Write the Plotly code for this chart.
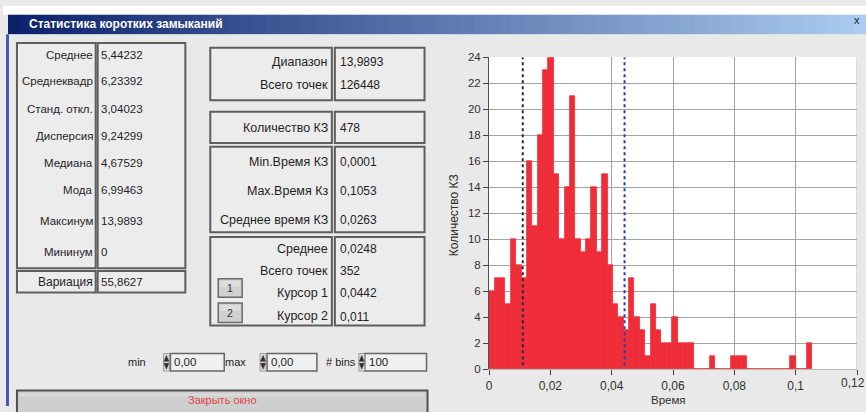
import plotly.graph_objects as go

W, H = 866, 412
FONT = "Liberation Sans, Arial, sans-serif"

# ---------------- data ----------------
bin_start = 0.0001
bin_end = 0.1053
hist_counts = [6, 7, 7, 5, 10, 8, 7, 16, 11, 18, 23, 24, 15, 10, 14, 21, 10, 9, 10, 14,
               9, 15, 8, 5, 4, 3, 7, 4, 3, 1, 5, 3, 2, 2, 4, 2, 2, 2, 0, 0,
               0, 1, 0, 0, 0, 1, 1, 1, 0, 0, 0, 0, 0, 0, 0, 0, 1, 0, 0, 2]
cursor1 = 0.0442
cursor2 = 0.011
x_ticks = [0, 0.02, 0.04, 0.06, 0.08, 0.1, 0.12]
y_ticks = [0, 2, 4, 6, 8, 10, 12, 14, 16, 18, 20, 22, 24]

window_title = "Статистика коротких замыканий"
left_labels = ["Среднее", "Среднеквадр", "Станд. откл.", "Дисперсия", "Медиана", "Мода", "Максинум", "Мининум"]
left_values = ["5,44232", "6,23392", "3,04023", "9,24299", "4,67529", "6,99463", "13,9893", "0"]
var_label = "Вариация"
var_value = "55,8627"
mid1_labels = ["Диапазон", "Всего точек"]
mid1_values = ["13,9893", "126448"]
mid2_labels = ["Количество КЗ"]
mid2_values = ["478"]
mid3_labels = ["Min.Время КЗ", "Max.Время Кз", "Среднее время КЗ"]
mid3_values = ["0,0001", "0,1053", "0,0263"]
mid4_labels = ["Среднее", "Всего точек", "Курсор 1", "Курсор 2"]
mid4_values = ["0,0248", "352", "0,0442", "0,011"]
ctrl_labels = ["min", "max", "# bins"]
ctrl_values = ["0,00", "0,00", "100"]
close_label = "Закрыть окно"
x_title = "Время"
y_title = "Количество КЗ"

# ---------------- helpers ----------------
def px(x):
    return x / W

def py(y):
    return 1 - y / H

shapes, annotations = [], []

def rect(x0, y0, x1, y1, fill, line=None, lw=0, layer="below"):
    shapes.append(dict(type="rect", xref="paper", yref="paper",
                       x0=px(x0), x1=px(x1), y0=py(y1), y1=py(y0),
                       fillcolor=fill,
                       line=dict(color=line if line else fill, width=lw),
                       layer=layer))

def path(d_pts, fill, layer="above"):
    d = "M " + " L ".join(f"{px(a):.5f},{py(b):.5f}" for a, b in d_pts) + " Z"
    shapes.append(dict(type="path", xref="paper", yref="paper", path=d,
                       fillcolor=fill, line=dict(color=fill, width=0.5), layer=layer))

def text(x, y, s, size=12, color="#1e1e1e", anchor="left", bold=False, angle=0):
    if bold:
        s = "<b>" + s + "</b>"
    annotations.append(dict(xref="paper", yref="paper", x=px(x), y=py(y), text=s,
                            showarrow=False, xanchor=anchor, yanchor="middle",
                            textangle=angle, borderpad=0,
                            font=dict(family=FONT, size=size, color=color)))

BG = "#e9e9e9"
BOX_FILL = "#ececec"
BOX_LINE = "#5e5e5e"

# ---------------- window chrome ----------------
rect(0, 0, W, 9, "#ffffff")
c0 = (12, 34, 108)
c1 = (170, 204, 240)
N = 70
x_start, x_stop = 5, W
for i in range(N):
    t = i / (N - 1)
    col = "rgb(%d,%d,%d)" % tuple(int(c0[k] + (c1[k] - c0[k]) * t) for k in range(3))
    xa = x_start + (x_stop - x_start) * i / N
    xb = min(W, x_start + (x_stop - x_start) * (i + 1) / N + 0.8)
    rect(xa, 9, xb, 29, col)
text(25, 18.5, window_title, size=12, color="#ffffff", bold=True)
text(857, 14, "x", size=11, color="#202020", anchor="center")
rect(3, 29, 6, H, "#4658b6")

# ---------------- left statistics panel ----------------
rect(14, 38, 93, 270, BOX_FILL, BOX_LINE, 2)
rect(95, 38, 183, 270, BOX_FILL, BOX_LINE, 2)
left_rows = [50, 77, 106, 134, 162, 190, 221, 253]
for lab, val, yy in zip(left_labels, left_values, left_rows):
    text(91, yy, lab, size=11.5, anchor="right")
    text(97, yy, val, size=11.5)
rect(14, 273, 93, 295, BOX_FILL, BOX_LINE, 2)
rect(95, 273, 183, 295, BOX_FILL, BOX_LINE, 2)
text(91, 284, var_label, size=12, anchor="right")
text(97, 284, var_value, size=11.5)

# ---------------- middle panel ----------------
groups = [
    ((43, 97), mid1_labels, mid1_values, [58, 81]),
    ((109, 141), mid2_labels, mid2_values, [126]),
    ((145, 233), mid3_labels, mid3_values, [161, 191, 220]),
    ((238, 329), mid4_labels, mid4_values, [250, 273, 296, 319]),
]
for (ya, yb), labs, vals, rows in groups:
    rect(208, ya, 330, yb, BOX_FILL, BOX_LINE, 2)
    rect(333, ya, 423, yb, BOX_FILL, BOX_LINE, 2)
    for lab, val, yy in zip(labs, vals, rows):
        text(327, yy, lab, size=12.5, anchor="right")
        text(337, yy + (1 if lab == "Курсор 2" else 0), val, size=12)

# cursor buttons
for lab, (ya, yb) in zip(["1", "2"], [(281, 300), (306, 326)]):
    rect(216, ya, 240, yb, "#d0d0d0", "#6a6a6a", 1.5)
    rect(218, ya + 2, 238, ya + 8, "#dedede")
    text(228, (ya + yb) / 2, lab, size=10.5, anchor="center", color="#303030")

# ---------------- controls row ----------------
ctrl_geom = [(145, 161, 168, 222), (245, 258, 265, 315), (355, 357, 363, 425)]
for lab, val, (lx, sx, bx0, bx1) in zip(ctrl_labels, ctrl_values, ctrl_geom):
    text(lx, 367, lab, size=11, anchor="right")
    rect(bx0, 358, bx1, 376, "#f0f0f0", "#666666", 1.5)
    rect(sx, 358, sx + 6, 376, "#dcdcdc", "#8a8a8a", 0.8)
    path([(sx + 0.5, 366), (sx + 5.5, 366), (sx + 3, 360)], "#303030")
    path([(sx + 0.5, 368), (sx + 5.5, 368), (sx + 3, 374)], "#303030")
    text(bx0 + 3, 367, val, size=11.5)

# close button (runs past the bottom edge of the window)
rect(14, 396, 426, 420, "#cfcfcf", "#505050", 2)
rect(17, 399, 423, 402, "#dadada")
text(220, 406, close_label, size=11, anchor="center", color="#e04848")

# ---------------- histogram ----------------
n_bins = len(hist_counts)
bw = (bin_end - bin_start) / n_bins
centers = [bin_start + (i + 0.5) * bw for i in range(n_bins)]

PX0, PX1 = 487.7, 857.0
PY0, PY1 = 52.7, 374.0
BAR_RED = "#ee2d38"

fig = go.Figure()
fig.add_trace(go.Bar(x=centers, y=hist_counts, width=[bw] * n_bins,
                     marker=dict(color=BAR_RED, line=dict(width=0.8, color=BAR_RED)),
                     hoverinfo="x+y"))

for cx, col in [(cursor2, "#2a2a3a"), (cursor1, "#2440a8")]:
    shapes.append(dict(type="line", xref="x", yref="y", x0=cx, x1=cx, y0=0.3, y1=24,
                       line=dict(color=col, width=2, dash="dot"), layer="above"))
# right border of plot area (grid at 0.12)
shapes.append(dict(type="line", xref="x", yref="y", x0=0.12, x1=0.12, y0=0, y1=24,
                   line=dict(color="#b4b4b4", width=1), layer="above"))

# last x tick label sits at the window edge
annotations.append(dict(xref="x", yref="paper", x=x_ticks[-1], y=py(388),
                        text=("%g" % x_ticks[-1]).replace(".", ","), showarrow=False,
                        xanchor="right", xshift=9, yanchor="middle", borderpad=0,
                        font=dict(family=FONT, size=12, color="#303030")))

text(668, 406, x_title, size=11.5, anchor="center", color="#303030")
text(452, 215, y_title, size=12, anchor="center", color="#303030", angle=-90)

fig.update_layout(
    width=W, height=H, autosize=False,
    margin=dict(l=0, r=0, t=0, b=0, pad=0),
    paper_bgcolor=BG, plot_bgcolor="#ffffff",
    separators=", ",
    showlegend=False,
    bargap=0,
    shapes=shapes, annotations=annotations,
    font=dict(family=FONT, size=12, color="#303030"),
    xaxis=dict(domain=[px(PX0), px(PX1)], range=[0, 0.12], tickvals=x_ticks,
               ticks="outside", ticklen=5, tickwidth=1, tickcolor="#404040",
               showgrid=True, gridcolor="#a4a4a4", gridwidth=1,
               zeroline=False, showline=True, linecolor="#b8b8b8", linewidth=1,
               tickfont=dict(family=FONT, size=12, color="#303030"), fixedrange=True),
    yaxis=dict(domain=[py(PY1), py(PY0)], range=[0, 24], tickvals=y_ticks,
               ticks="outside", ticklen=5, tickwidth=1, tickcolor="#404040",
               showgrid=True, gridcolor="#a4a4a4", gridwidth=1,
               zeroline=False, showline=True, linecolor="#505050", linewidth=1,
               tickfont=dict(family=FONT, size=11.5, color="#303030"), fixedrange=True),
)

fig.write_html("out.html", config={"displayModeBar": False, "responsive": False},
               post_script="document.body.style.margin='0';document.body.style.overflow='hidden';")
